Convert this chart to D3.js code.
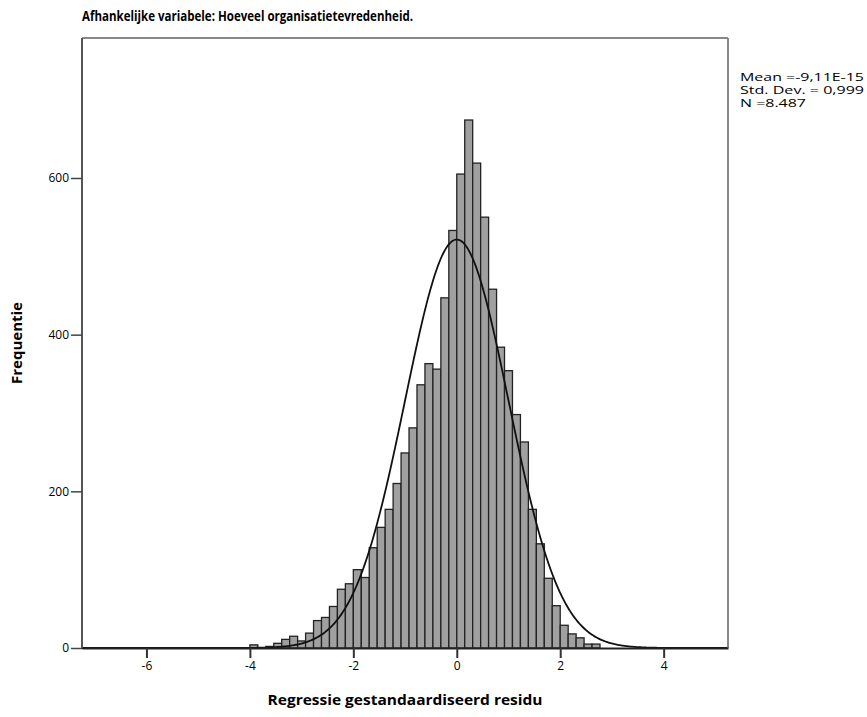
<!DOCTYPE html>
<html>
<head>
<meta charset="utf-8">
<script src="https://cdn.jsdelivr.net/npm/d3@7"></script>
<style>
  body { margin: 0; background: #fff; }
  text { font-family: "Open Sans", "Liberation Sans", sans-serif; fill: #000; }
</style>
</head>
<body>
<div id="chart"></div>
<script>
// histogram data
const binStart = -4;
const binWidth = 2 / 13;
const counts = [4, 0, 2, 6, 11, 15, 9, 19, 35, 39, 53, 75, 82, 100, 90, 128, 154, 177, 210, 249,
  281, 336, 363, 356, 447, 533, 605, 674, 619, 550, 458, 384, 354, 298, 263, 177, 133, 89, 54, 29,
  18, 13, 5, 5];

const xTicks = [-6, -4, -2, 0, 2, 4];
const yTicks = [0, 200, 400, 600];

const meanValue = -9.11e-15;
const stdDev = 0.999;
const nValue = 8487;
const statLines = ["Mean =-9,11E-15", "Std. Dev. = 0,999", "N =8.487"];
const statWidths = [124, 124, 66];

const width = 867;
const height = 717;
const margin = { left: 82, top: 38, right: 139, bottom: 69 };

const svg = d3
  .select("#chart")
  .append("svg")
  .attr("width", width)
  .attr("height", height);

// scales
const x = d3
  .scaleLinear()
  .domain([-7.246, 5.244])
  .range([margin.left, width - margin.right]);

const y = d3
  .scaleLinear()
  .domain([0, 778.7])
  .range([height - margin.bottom, margin.top]);

// title
svg
  .append("text")
  .attr("x", margin.left)
  .attr("y", 21)
  .attr("font-size", 13.5)
  .attr("font-weight", "bold")
  .attr("textLength", 331)
  .attr("lengthAdjust", "spacingAndGlyphs")
  .text("Afhankelijke variabele: Hoeveel organisatietevredenheid.");

// bars
svg
  .append("g")
  .selectAll("rect")
  .data(counts)
  .join("rect")
  .attr("x", (d, i) => x(binStart + i * binWidth))
  .attr("y", (d) => y(d))
  .attr("width", x(binWidth) - x(0))
  .attr("height", (d) => y(0) - y(d))
  .attr("fill", (d) => (d > 0 ? "#a0a0a0" : "none"))
  .attr("stroke", (d) => (d > 0 ? "#222" : "none"))
  .attr("stroke-width", 1.3);

// normal curve from mean / sd / n
const scaleFactor = nValue * binWidth;
const curvePts = d3.range(x.domain()[0], x.domain()[1] + 0.001, 0.02).map((v) => {
  const z = (v - meanValue) / stdDev;
  return [v, (scaleFactor / (stdDev * Math.sqrt(2 * Math.PI))) * Math.exp(-0.5 * z * z)];
});

svg
  .append("path")
  .datum(curvePts)
  .attr("fill", "none")
  .attr("stroke", "#111")
  .attr("stroke-width", 1.8)
  .attr("d", d3.line().x((d) => x(d[0])).y((d) => y(d[1])));

// frame: top/right gray, left/bottom darker
const x0 = x.range()[0], x1 = x.range()[1];
const y0 = y.range()[0], y1 = y.range()[1];
svg.append("line").attr("x1", x0).attr("x2", x1).attr("y1", y1).attr("y2", y1)
  .attr("stroke", "#888").attr("stroke-width", 2);
svg.append("line").attr("x1", x1).attr("x2", x1).attr("y1", y1).attr("y2", y0)
  .attr("stroke", "#888").attr("stroke-width", 2);
svg.append("line").attr("x1", x0).attr("x2", x0).attr("y1", y1).attr("y2", y0)
  .attr("stroke", "#555").attr("stroke-width", 2);

// x axis
const xAxis = svg
  .append("g")
  .attr("transform", `translate(0,${y0})`)
  .call(d3.axisBottom(x).tickValues(xTicks).tickFormat((d) => String(d))
    .tickSize(10).tickPadding(3).tickSizeOuter(0));
xAxis.select(".domain").attr("stroke", "#222").attr("stroke-width", 2.2);
xAxis.selectAll(".tick line").attr("stroke", "#333").attr("stroke-width", 2);
xAxis.selectAll(".tick text").attr("font-size", 12).attr("font-family", "Open Sans, sans-serif");

// y axis
const yAxis = svg
  .append("g")
  .attr("transform", `translate(${x0},0)`)
  .call(d3.axisLeft(y).tickValues(yTicks).tickFormat((d) => String(d))
    .tickSize(11).tickPadding(2).tickSizeOuter(0));
yAxis.select(".domain").remove();
yAxis.selectAll(".tick line").attr("stroke", "#444").attr("stroke-width", 1.5);
yAxis.selectAll(".tick text").attr("font-size", 12).attr("font-family", "Open Sans, sans-serif");

// axis titles
svg
  .append("text")
  .attr("x", (x0 + x1) / 2)
  .attr("y", 705)
  .attr("text-anchor", "middle")
  .attr("font-size", 13.5)
  .attr("font-weight", "bold")
  .attr("textLength", 275)
  .attr("lengthAdjust", "spacingAndGlyphs")
  .text("Regressie gestandaardiseerd residu");

svg
  .append("text")
  .attr("transform", `translate(22,${(y0 + y1) / 2}) rotate(-90)`)
  .attr("text-anchor", "middle")
  .attr("font-size", 13.5)
  .attr("font-weight", "bold")
  .attr("textLength", 82)
  .attr("lengthAdjust", "spacingAndGlyphs")
  .text("Frequentie");

// statistics box text
svg
  .append("g")
  .selectAll("text")
  .data(statLines)
  .join("text")
  .attr("x", 740)
  .attr("y", (d, i) => 81 + i * 13)
  .attr("font-size", 10)
  .attr("font-family", "Liberation Sans, sans-serif")
  .attr("textLength", (d, i) => statWidths[i])
  .attr("lengthAdjust", "spacingAndGlyphs")
  .text((d) => d);
</script>
</body>
</html>
